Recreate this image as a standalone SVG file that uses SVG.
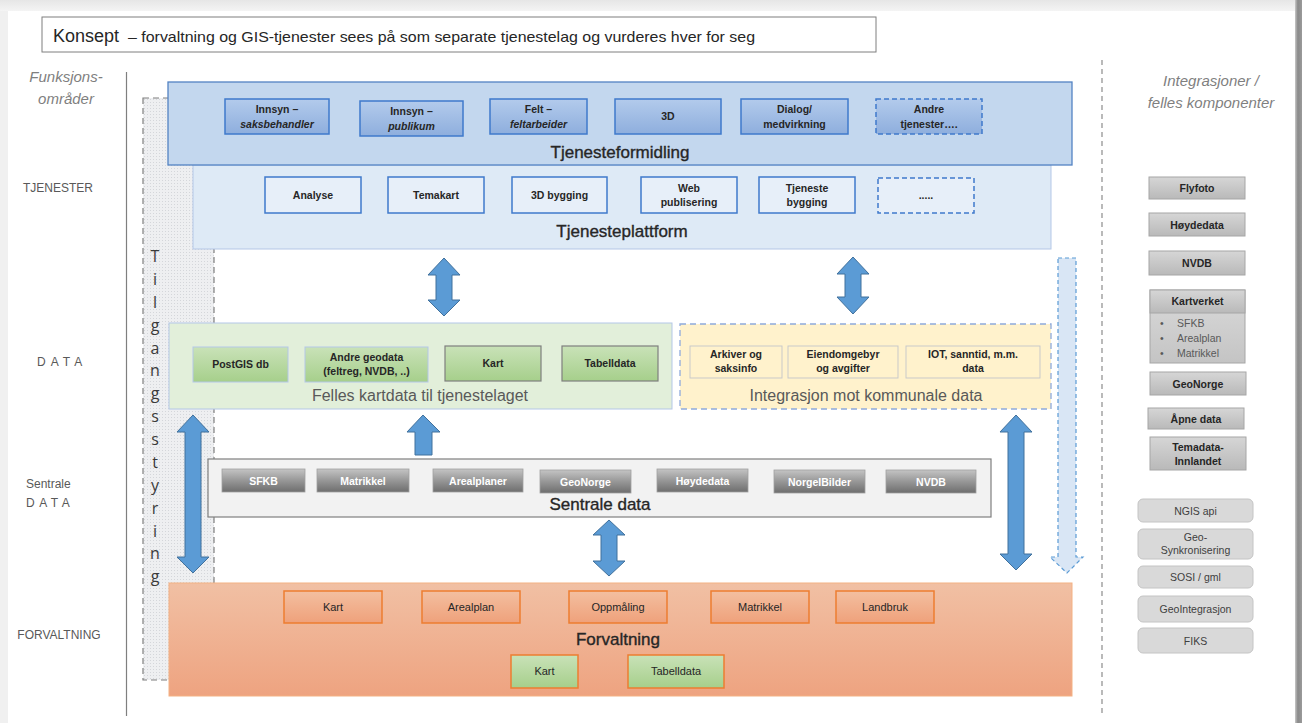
<svg xmlns="http://www.w3.org/2000/svg" width="1302" height="723" viewBox="0 0 1302 723">
<defs>
<linearGradient id="gTop" x1="0" y1="0" x2="0" y2="1"><stop offset="0" stop-color="#E6E6E6"/><stop offset="1" stop-color="#F4F4F4"/></linearGradient>
<linearGradient id="gRight" x1="0" y1="0" x2="1" y2="0"><stop offset="0" stop-color="#C8C8C8"/><stop offset="0.4" stop-color="#8A8A8A"/><stop offset="1" stop-color="#9A9A9A"/></linearGradient>
<linearGradient id="gBlue" x1="0" y1="0" x2="0" y2="1"><stop offset="0" stop-color="#B3CBEC"/><stop offset="1" stop-color="#8EAEDD"/></linearGradient>
<linearGradient id="gGreen" x1="0" y1="0" x2="0" y2="1"><stop offset="0" stop-color="#C9E2B8"/><stop offset="1" stop-color="#A6CF8B"/></linearGradient>
<linearGradient id="gGray" x1="0" y1="0" x2="0" y2="1"><stop offset="0" stop-color="#C4C4C4"/><stop offset="0.5" stop-color="#979797"/><stop offset="1" stop-color="#6E6E6E"/></linearGradient>
<linearGradient id="gLight" x1="0" y1="0" x2="0" y2="1"><stop offset="0" stop-color="#D6D6D6"/><stop offset="1" stop-color="#B9B9B9"/></linearGradient>
<linearGradient id="gKv" x1="0" y1="0" x2="0" y2="1"><stop offset="0" stop-color="#DADADA"/><stop offset="1" stop-color="#C4C4C4"/></linearGradient>
<linearGradient id="gForv" x1="0" y1="0" x2="0" y2="1"><stop offset="0" stop-color="#F1C0A4"/><stop offset="1" stop-color="#EEA380"/></linearGradient>
<linearGradient id="gOrange" x1="0" y1="0" x2="0" y2="1"><stop offset="0" stop-color="#F3BFA0"/><stop offset="1" stop-color="#EFA17B"/></linearGradient>
<pattern id="pDots" width="3" height="3" patternUnits="userSpaceOnUse"><rect width="3" height="3" fill="#EEEFF1"/><rect width="1" height="1" fill="#D4D6DA"/></pattern>
</defs>
<style>
.side{font-family:"Liberation Sans",Arial,sans-serif;fill:#7F7F7F;font-style:italic;font-size:15px;text-anchor:middle}
.area{font-family:"Liberation Sans",Arial,sans-serif;fill:#595959;font-size:12px}
.btn{font-family:"Liberation Sans",Arial,sans-serif;font-weight:bold;font-size:10.5px;fill:#262626;text-anchor:middle}
.big{font-family:"Liberation Sans",Arial,sans-serif;font-size:17px;fill:#262626;stroke:#262626;stroke-width:0.35;text-anchor:middle}
.grey{font-family:"Liberation Sans",Arial,sans-serif;font-size:16px;fill:#595959;text-anchor:middle}
.wbtn{font-family:"Liberation Sans",Arial,sans-serif;font-weight:bold;font-size:10.5px;fill:#FFFFFF;text-anchor:middle}
.obtn{font-family:"Liberation Sans",Arial,sans-serif;font-size:11px;fill:#262626;text-anchor:middle}
.rbtn{font-family:"Liberation Sans",Arial,sans-serif;font-size:10.5px;fill:#404040;text-anchor:middle}
.bul{font-family:"Liberation Sans",Arial,sans-serif;font-size:10.5px;fill:#595959;text-anchor:start}
.bBlue{fill:url(#gBlue);stroke:#3F7ACB;stroke-width:1.5}
.bPlat{fill:#E7EFF9;stroke:#3F7ACB;stroke-width:1.5}
.bGreen{fill:url(#gGreen)}
.bYel{fill:#FFF2CC;stroke:#C9C9C9;stroke-width:1}
.bGray{fill:url(#gGray);stroke:#A0A0A0;stroke-width:0.8}
.bLight{fill:url(#gLight);stroke:#A6A6A6;stroke-width:1}
.bRound{fill:#D9D9D9;stroke:#C4C4C4;stroke-width:1}
.bOr{fill:url(#gOrange);stroke:#ED7D31;stroke-width:1.5}
.arr{fill:#5B9BD5;stroke:#41719C;stroke-width:1}
.tl{font-family:"Open Sans","Liberation Sans",sans-serif;font-size:16px;fill:#3A3A3A;text-anchor:middle}
</style>

<!-- page frame -->
<rect x="0" y="0" width="1302" height="723" fill="#F0F0F0"/>
<rect x="0" y="0" width="1302" height="11" fill="url(#gTop)"/>
<rect x="8" y="11" width="1287" height="712" fill="#FFFFFF"/>
<rect x="1295" y="0" width="7" height="723" fill="url(#gRight)"/>

<!-- title -->
<g id="title">
<rect x="42" y="17" width="834" height="35" fill="#FFFFFF" stroke="#7F7F7F" stroke-width="1"/>
<text x="53" y="42" font-family="Liberation Sans,Arial,sans-serif" font-size="18" fill="#262626">Konsept</text>
<text x="128" y="42" font-family="Liberation Sans,Arial,sans-serif" font-size="14.5" fill="#262626" textLength="627" lengthAdjust="spacingAndGlyphs">– forvaltning og GIS-tjenester sees på som separate tjenestelag og vurderes hver for seg</text>
</g>

<!-- left axis -->
<g id="left-labels">
<text class="side" x="66" y="82">Funksjons-</text>
<text class="side" x="66" y="104">områder</text>
<line x1="126.5" y1="72" x2="126.5" y2="716" stroke="#7F7F7F" stroke-width="1.2"/>
<text class="area" x="58" y="192" text-anchor="middle">TJENESTER</text>
<text class="area" x="37" y="366" letter-spacing="5">DATA</text>
<text class="area" x="26" y="488">Sentrale</text>
<text class="area" x="26" y="507" letter-spacing="4.5">DATA</text>
<text class="area" x="59" y="639" text-anchor="middle">FORVALTNING</text>
</g>

<!-- right axis -->
<g id="right-labels">
<line x1="1102" y1="60" x2="1102" y2="716" stroke="#8C8C8C" stroke-width="1.2" stroke-dasharray="5,4"/>
<text class="side" x="1211" y="86">Integrasjoner /</text>
<text class="side" x="1211" y="108">felles komponenter</text>
</g>

<!-- Tilgangsstyring -->
<g id="tilgangsstyring">
<rect x="143" y="98" width="71" height="582" fill="url(#pDots)" stroke="#7F7F7F" stroke-width="1.2" stroke-dasharray="6,4"/>
<text class="tl" x="155" y="262">T</text>
<text class="tl" x="155" y="285">i</text>
<text class="tl" x="155" y="308">l</text>
<text class="tl" x="155" y="331">g</text>
<text class="tl" x="155" y="354">a</text>
<text class="tl" x="155" y="376">n</text>
<text class="tl" x="155" y="399">g</text>
<text class="tl" x="155" y="422">s</text>
<text class="tl" x="155" y="445">s</text>
<text class="tl" x="155" y="468">t</text>
<text class="tl" x="155" y="491">y</text>
<text class="tl" x="155" y="514">r</text>
<text class="tl" x="155" y="537">i</text>
<text class="tl" x="155" y="559">n</text>
<text class="tl" x="155" y="582">g</text>
</g>

<!-- Tjenesteplattform -->
<g id="tjenesteplattform">
<rect x="193" y="165" width="858" height="84" fill="#DEEAF6" stroke="#B4C7E7" stroke-width="1"/>
<rect class="bPlat" x="265" y="177" width="96" height="36"/>
<text class="btn" x="313" y="199">Analyse</text>
<rect class="bPlat" x="388" y="177" width="96" height="36"/>
<text class="btn" x="436" y="199">Temakart</text>
<rect class="bPlat" x="512" y="177" width="95" height="36"/>
<text class="btn" x="559.5" y="199">3D bygging</text>
<rect class="bPlat" x="641" y="177" width="96" height="36"/>
<text class="btn" x="689" y="192">Web</text>
<text class="btn" x="689" y="206">publisering</text>
<rect class="bPlat" x="759" y="177" width="96" height="36"/>
<text class="btn" x="807" y="192">Tjeneste</text>
<text class="btn" x="807" y="206">bygging</text>
<rect x="878" y="178" width="96" height="35" fill="#E7EFF9" stroke="#3F7ACB" stroke-width="1.5" stroke-dasharray="5,3"/>
<text class="btn" x="926" y="199">.....</text>
<text class="big" x="622" y="237">Tjenesteplattform</text>
</g>

<!-- Tjenesteformidling -->
<g id="tjenesteformidling">
<rect x="168" y="82" width="904" height="83" fill="#C3D7EE" stroke="#5383C3" stroke-width="1.3"/>
<rect class="bBlue" x="225" y="99" width="104" height="35"/>
<text class="btn" x="277" y="113">Innsyn –</text>
<text class="btn" x="277" y="128" font-style="italic">saksbehandler</text>
<rect class="bBlue" x="360" y="101" width="103" height="35"/>
<text class="btn" x="411.5" y="115">Innsyn –</text>
<text class="btn" x="411.5" y="130" font-style="italic">publikum</text>
<rect class="bBlue" x="490" y="99" width="97" height="35"/>
<text class="btn" x="538.5" y="113">Felt –</text>
<text class="btn" x="538.5" y="128" font-style="italic">feltarbeider</text>
<rect class="bBlue" x="615" y="99" width="106" height="35"/>
<text class="btn" x="668" y="120">3D</text>
<rect class="bBlue" x="741" y="99" width="107" height="35"/>
<text class="btn" x="794.5" y="113">Dialog/</text>
<text class="btn" x="794.5" y="128">medvirkning</text>
<rect x="876" y="99" width="106" height="35" fill="url(#gBlue)" stroke="#3F7ACB" stroke-width="1.5" stroke-dasharray="5,3"/>
<text class="btn" x="929" y="113">Andre</text>
<text class="btn" x="929" y="128">tjenester….</text>
<text class="big" x="620" y="158">Tjenesteformidling</text>
</g>

<!-- Felles kartdata -->
<g id="felles-kartdata">
<rect x="169" y="323" width="503" height="86" fill="#E2EFDA" stroke="#B4C7E7" stroke-width="1"/>
<rect class="bGreen" x="193" y="347" width="95" height="35" stroke="#B4C7E7" stroke-width="1"/>
<text class="btn" x="240.5" y="368">PostGIS db</text>
<rect class="bGreen" x="305" y="347" width="123" height="35" stroke="#B4C7E7" stroke-width="1"/>
<text class="btn" x="366.5" y="361">Andre geodata</text>
<text class="btn" x="366.5" y="375">(feltreg, NVDB, ..)</text>
<rect class="bGreen" x="445" y="346" width="96" height="35" stroke="#7F7F7F" stroke-width="1.2"/>
<text class="btn" x="493" y="367">Kart</text>
<rect class="bGreen" x="562" y="346" width="96" height="35" stroke="#7F7F7F" stroke-width="1.2"/>
<text class="btn" x="610" y="367">Tabelldata</text>
<text class="grey" x="420" y="401">Felles kartdata til tjenestelaget</text>
</g>

<!-- Integrasjon mot kommunale data -->
<g id="integrasjon-kommunale">
<rect x="680" y="324" width="371" height="85" fill="#FFF2CC" stroke="#8FAADC" stroke-width="1.3" stroke-dasharray="6,4"/>
<rect class="bYel" x="690" y="346" width="92" height="32"/>
<text class="btn" x="736" y="358">Arkiver og</text>
<text class="btn" x="736" y="372">saksinfo</text>
<rect class="bYel" x="788" y="346" width="110" height="32"/>
<text class="btn" x="843" y="358">Eiendomgebyr</text>
<text class="btn" x="843" y="372">og avgifter</text>
<rect class="bYel" x="906" y="346" width="134" height="32"/>
<text class="btn" x="973" y="358">IOT, sanntid, m.m.</text>
<text class="btn" x="973" y="372">data</text>
<text class="grey" x="866" y="401">Integrasjon mot kommunale data</text>
</g>

<!-- Sentrale data -->
<g id="sentrale-data">
<rect x="208" y="459" width="783" height="58" fill="#F2F2F2" stroke="#7F7F7F" stroke-width="1.2"/>
<rect class="bGray" x="222" y="469" width="83" height="23"/>
<text class="wbtn" x="263.5" y="484.5">SFKB</text>
<rect class="bGray" x="317" y="469" width="92" height="23"/>
<text class="wbtn" x="363" y="484.5">Matrikkel</text>
<rect class="bGray" x="433" y="469" width="90" height="23"/>
<text class="wbtn" x="478" y="484.5">Arealplaner</text>
<rect class="bGray" x="540" y="470" width="91" height="23"/>
<text class="wbtn" x="585.5" y="485.5">GeoNorge</text>
<rect class="bGray" x="657" y="469" width="91" height="23"/>
<text class="wbtn" x="702.5" y="484.5">Høydedata</text>
<rect class="bGray" x="774" y="470" width="91" height="23"/>
<text class="wbtn" x="819.5" y="485.5">NorgeIBilder</text>
<rect class="bGray" x="886" y="470" width="90" height="23"/>
<text class="wbtn" x="931" y="485.5">NVDB</text>
<text class="big" x="600" y="510">Sentrale data</text>
</g>

<!-- Forvaltning -->
<g id="forvaltning">
<rect x="169" y="583" width="903" height="113" fill="url(#gForv)" stroke="#F4B183" stroke-width="1"/>
<rect class="bOr" x="284" y="591" width="98" height="32"/>
<text class="obtn" x="333" y="611">Kart</text>
<rect class="bOr" x="422" y="591" width="98" height="32"/>
<text class="obtn" x="471" y="611">Arealplan</text>
<rect class="bOr" x="569" y="591" width="98" height="32"/>
<text class="obtn" x="618" y="611">Oppmåling</text>
<rect class="bOr" x="711" y="591" width="98" height="32"/>
<text class="obtn" x="760" y="611">Matrikkel</text>
<rect class="bOr" x="836" y="591" width="98" height="32"/>
<text class="obtn" x="885" y="611">Landbruk</text>
<text class="big" x="618" y="645">Forvaltning</text>
<rect class="bGreen" x="511" y="655" width="67" height="33" stroke="#ED7D31" stroke-width="1.5"/>
<text class="obtn" x="544.5" y="675">Kart</text>
<rect class="bGreen" x="628" y="655" width="96" height="33" stroke="#ED7D31" stroke-width="1.5"/>
<text class="obtn" x="676" y="675">Tabelldata</text>
</g>

<!-- right components -->
<g id="komponenter">
<rect class="bLight" x="1149" y="177" width="96" height="22"/>
<text class="btn" x="1197" y="192">Flyfoto</text>
<rect class="bLight" x="1149" y="213" width="96" height="23"/>
<text class="btn" x="1197" y="228.5">Høydedata</text>
<rect class="bLight" x="1149" y="251" width="96" height="24"/>
<text class="btn" x="1197" y="267">NVDB</text>
<rect x="1150" y="290" width="95" height="73" fill="url(#gKv)" stroke="#A6A6A6" stroke-width="1"/>
<rect class="bLight" x="1150" y="290" width="95" height="23"/>
<text class="btn" x="1197.5" y="305">Kartverket</text>
<text class="bul" x="1160" y="327">•</text>
<text class="bul" x="1177" y="327">SFKB</text>
<text class="bul" x="1160" y="342">•</text>
<text class="bul" x="1177" y="342">Arealplan</text>
<text class="bul" x="1160" y="357">•</text>
<text class="bul" x="1177" y="357">Matrikkel</text>
<rect class="bLight" x="1150" y="372" width="96" height="23"/>
<text class="btn" x="1198" y="387.5">GeoNorge</text>
<rect class="bLight" x="1148" y="408" width="96" height="21"/>
<text class="btn" x="1196" y="422.5">Åpne data</text>
<rect class="bLight" x="1150" y="437" width="96" height="33"/>
<text class="btn" x="1198" y="451">Temadata-</text>
<text class="btn" x="1198" y="465">Innlandet</text>
<rect class="bRound" x="1138" y="499" width="115" height="23" rx="5"/>
<text class="rbtn" x="1195.5" y="514.5">NGIS api</text>
<rect class="bRound" x="1138" y="529" width="115" height="30" rx="5"/>
<text class="rbtn" x="1195.5" y="541">Geo-</text>
<text class="rbtn" x="1195.5" y="554">Synkronisering</text>
<rect class="bRound" x="1138" y="566" width="115" height="22" rx="5"/>
<text class="rbtn" x="1195.5" y="581">SOSI / gml</text>
<rect class="bRound" x="1138" y="596" width="115" height="26" rx="5"/>
<text class="rbtn" x="1195.5" y="613">GeoIntegrasjon</text>
<rect class="bRound" x="1138" y="628" width="115" height="25" rx="5"/>
<text class="rbtn" x="1195.5" y="644.5">FIKS</text>
</g>

<!-- connectors -->
<g id="connectors">
<path class="arr" d="M444,258 L460,275 L452,275 L452,300 L460,300 L444,316 L428,300 L436,300 L436,275 L428,275 Z"/>
<path class="arr" d="M853,257 L869,274 L861,274 L861,297 L869,297 L853,314 L837,297 L845,297 L845,274 L837,274 Z"/>
<path class="arr" d="M193,415 L209,432 L201,432 L201,557 L209,557 L193,573 L177,557 L185,557 L185,432 L177,432 Z"/>
<path class="arr" d="M423,415 L440,432 L432,432 L432,455 L415,455 L415,432 L407,432 Z"/>
<path class="arr" d="M609,520 L625,535 L617,535 L617,561 L625,561 L609,576 L593,561 L601,561 L601,535 L593,535 Z"/>
<path class="arr" d="M1016,415 L1032,432 L1024,432 L1024,554 L1032,554 L1016,570 L1000,554 L1008,554 L1008,432 L1000,432 Z"/>
<path d="M1058,258 L1076,258 L1076,557 L1083,557 L1067,573 L1050,557 L1058,557 Z" fill="#D9E6F5" stroke="#5B9BD5" stroke-width="1.2" stroke-dasharray="4,3"/>
</g>
</svg>
